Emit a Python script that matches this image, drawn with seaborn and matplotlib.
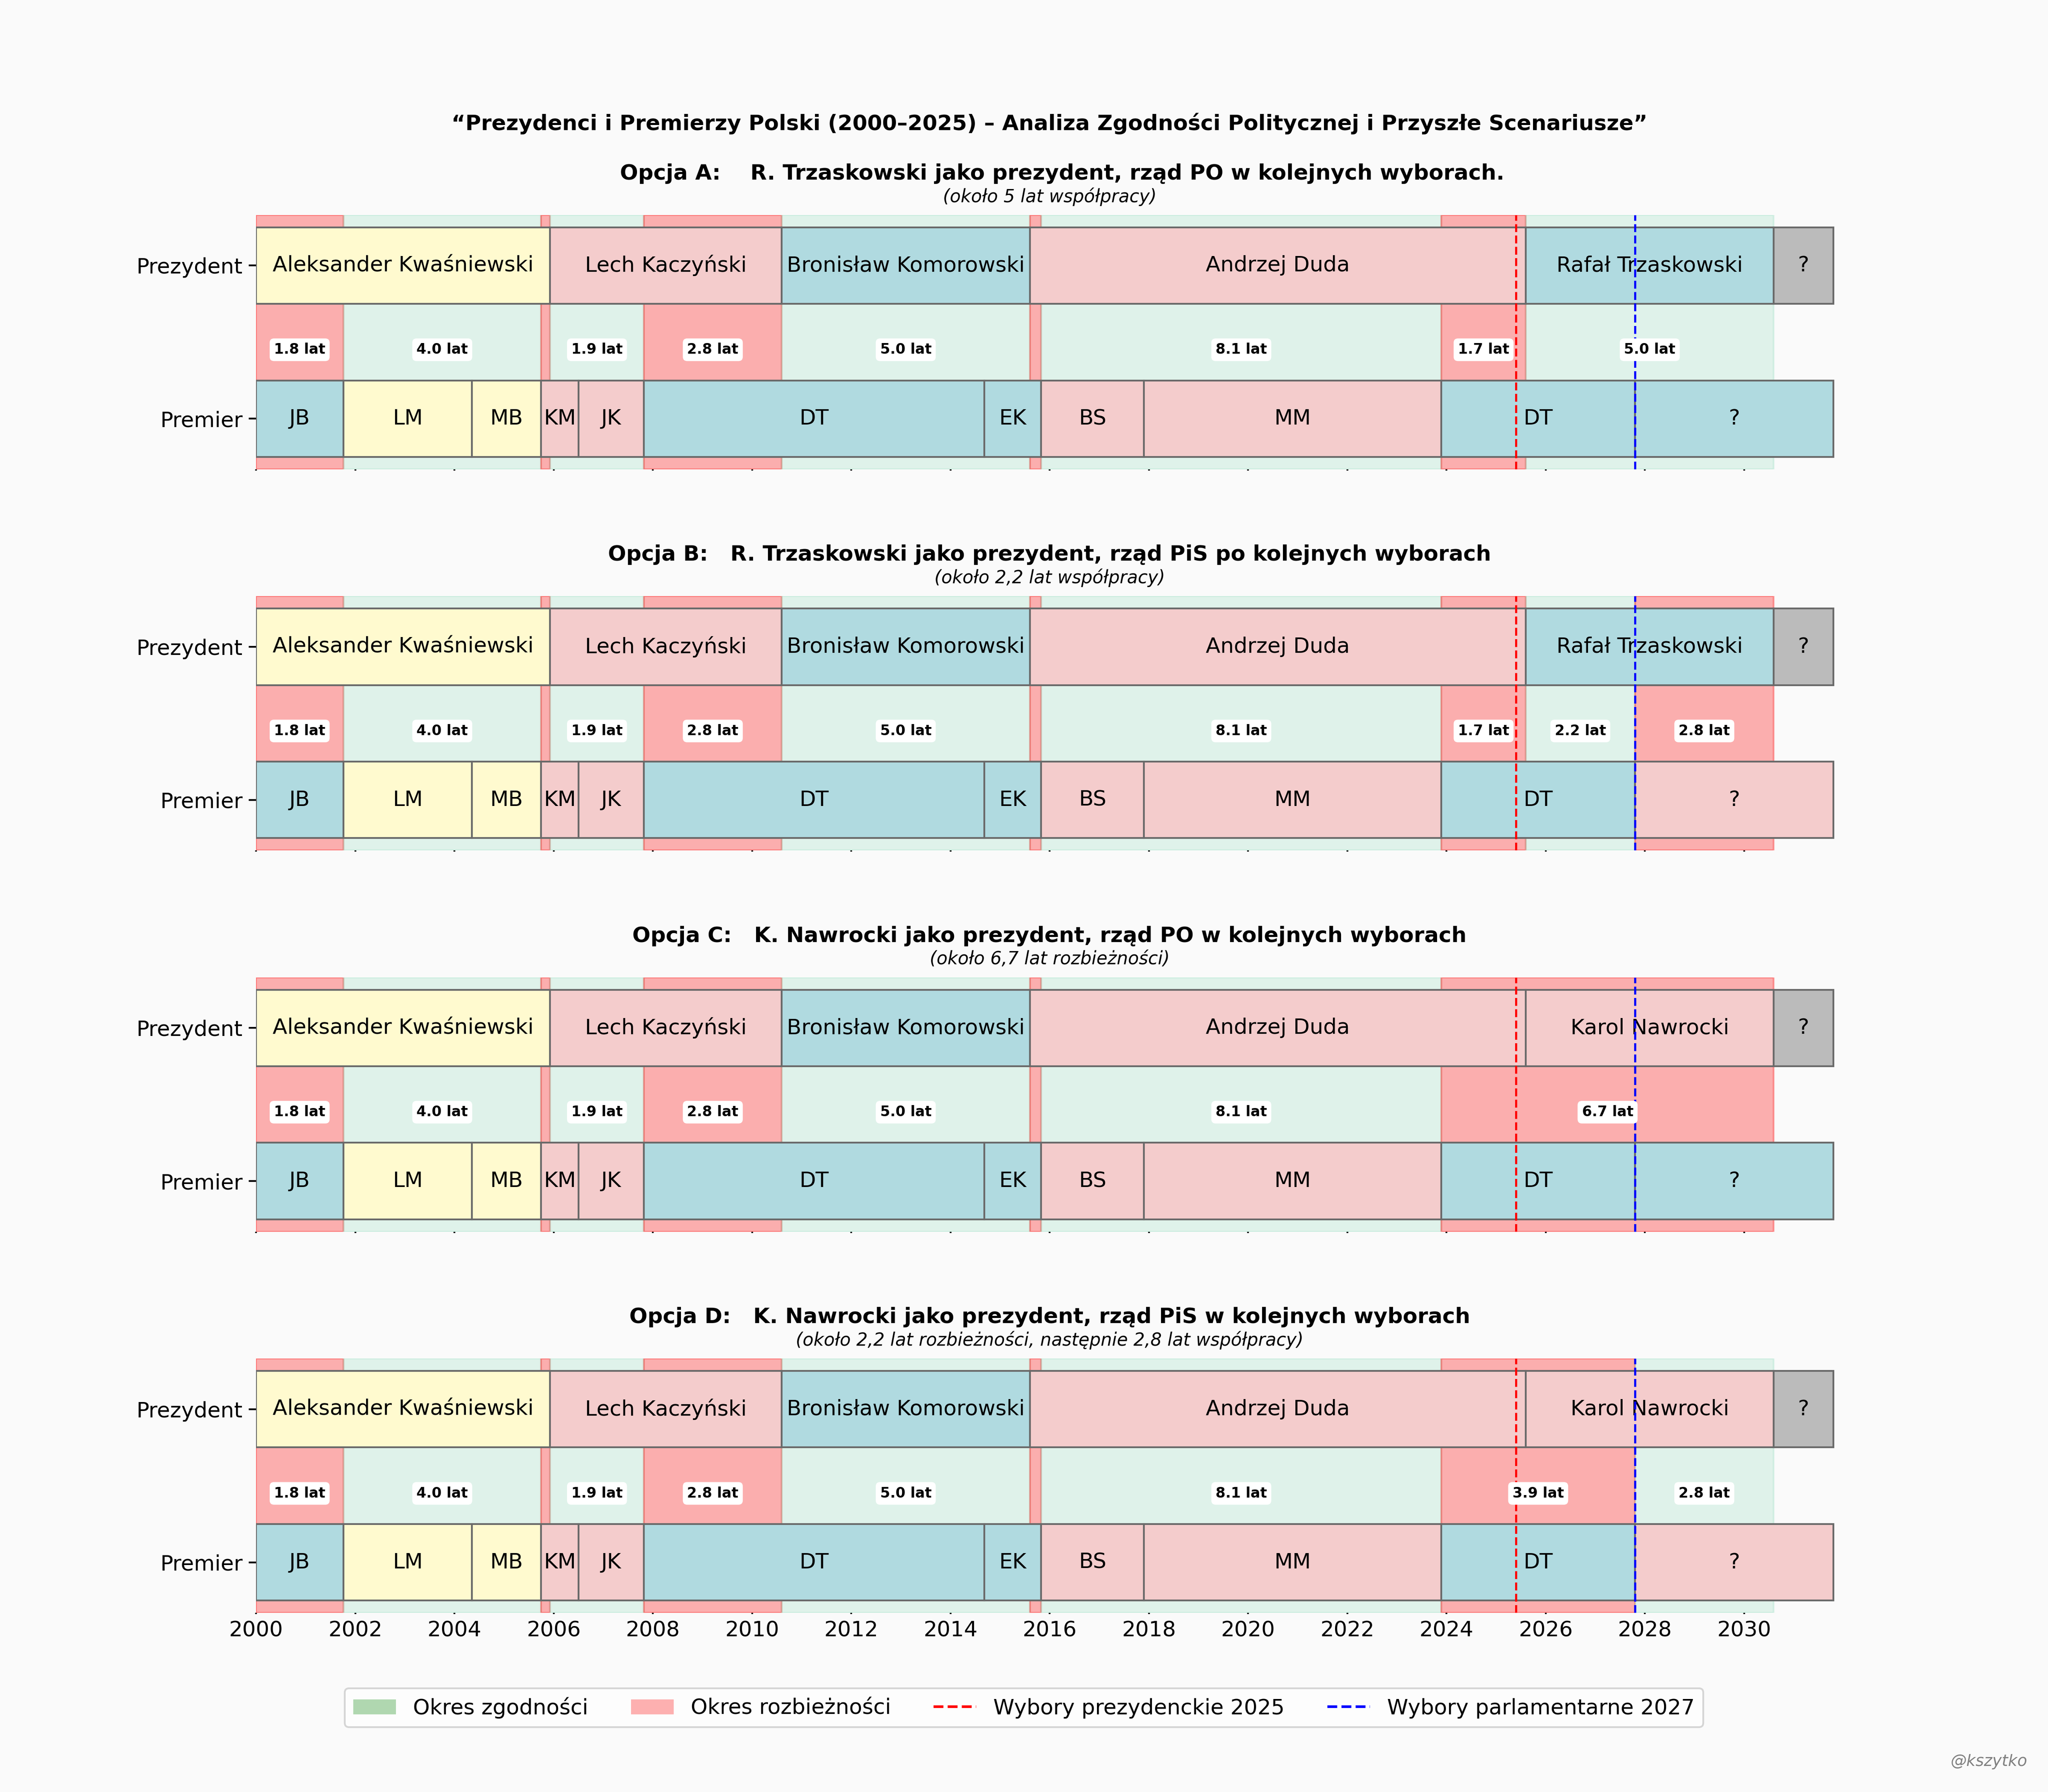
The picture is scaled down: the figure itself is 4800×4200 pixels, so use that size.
import matplotlib
matplotlib.use("Agg")
import matplotlib.pyplot as plt
from matplotlib.patches import Patch
from matplotlib.lines import Line2D
import seaborn as sns

# --- data -------------------------------------------------------------
pres_names = ["Aleksander Kwaśniewski", "Lech Kaczyński", "Bronisław Komorowski", "Andrzej Duda"]
pres_start = [2000, 2005.93, 2010.6, 2015.6]
pres_end = [2005.93, 2010.6, 2015.6, 2025.6]
pres_party = ["SLD", "PiS", "PO", "PiS"]

pm_names = ["JB", "LM", "MB", "KM", "JK", "DT", "EK", "BS", "MM", "DT"]
pm_start = [2000, 2001.76, 2004.35, 2005.75, 2006.5, 2007.82, 2014.68, 2015.83, 2017.9, 2023.9]
pm_end = [2001.76, 2004.35, 2005.75, 2006.5, 2007.82, 2014.68, 2015.83, 2017.9, 2023.9, 2027.8]
pm_party = ["PO", "SLD", "SLD", "PiS", "PiS", "PO", "PO", "PiS", "PiS", "PO"]

# scenario: next president (2025.6-2030.6) and next government (2027.8-)
opt_titles = [
    "Opcja A:    R. Trzaskowski jako prezydent, rząd PO w kolejnych wyborach.",
    "Opcja B:   R. Trzaskowski jako prezydent, rząd PiS po kolejnych wyborach",
    "Opcja C:   K. Nawrocki jako prezydent, rząd PO w kolejnych wyborach",
    "Opcja D:   K. Nawrocki jako prezydent, rząd PiS w kolejnych wyborach",
]
opt_subtitles = [
    "(około 5 lat współpracy)",
    "(około 2,2 lat współpracy)",
    "(około 6,7 lat rozbieżności)",
    "(około 2,2 lat rozbieżności, następnie 2,8 lat współpracy)",
]
opt_pres = ["Rafał Trzaskowski", "Rafał Trzaskowski", "Karol Nawrocki", "Karol Nawrocki"]
opt_pres_party = ["PO", "PO", "PiS", "PiS"]
opt_pm_party = ["PO", "PiS", "PO", "PiS"]

new_pres_start, new_pres_end = 2025.6, 2030.6
unknown_end = 2031.8
election_pres = 2025.4
election_parl = 2027.8

party_colors = {"PO": "#b0dae0", "SLD": "#fffacf", "PiS": "#f4cccc", "?": "#bbbbbb"}

sns.set_theme(style="ticks")
plt.rcParams["font.family"] = ["DejaVu Sans"]
plt.rcParams["figure.facecolor"] = "#fafafa"
plt.rcParams["axes.facecolor"] = "#fafafa"
plt.rcParams["text.color"] = "black"
plt.rcParams["xtick.color"] = "black"
plt.rcParams["ytick.color"] = "black"
plt.rcParams["axes.labelcolor"] = "black"

fig, axes = plt.subplots(4, 1, figsize=(16, 14), sharex=True)
plt.subplots_adjust(left=0.125, right=0.9, top=0.88, bottom=0.1, hspace=0.5)


def party_at(t, starts, ends, parties):
    for s, e, p in zip(starts, ends, parties):
        if s <= t < e:
            return p
    return None


for i, ax in enumerate(axes):
    p_names = pres_names + [opt_pres[i], "?"]
    p_start = pres_start + [new_pres_start, new_pres_end]
    p_end = pres_end + [new_pres_end, unknown_end]
    p_party = pres_party + [opt_pres_party[i], "?"]

    m_names = pm_names + ["?"]
    m_start = pm_start + [election_parl]
    m_end = pm_end + [unknown_end]
    m_party = pm_party + [opt_pm_party[i]]

    # agreement / disagreement periods
    cuts = sorted(set([c for c in p_start + p_end + m_start + m_end if c <= new_pres_end]))
    periods = []
    for a, b in zip(cuts[:-1], cuts[1:]):
        same = party_at(a, p_start, p_end, p_party) == party_at(a, m_start, m_end, m_party)
        if periods and periods[-1][2] == same:
            periods[-1][1] = b
        else:
            periods.append([a, b, same])

    for a, b, same in periods:
        if same:
            ax.axvspan(a, b, color="#7fd8b4", alpha=0.22, zorder=0)
        else:
            ax.axvspan(a, b, color="red", alpha=0.3, zorder=0)
        if b - a >= 0.5:
            ax.text((a + b) / 2, 0.45, f"{b - a:.1f} lat", ha="center", va="center",
                    fontsize=8, fontweight="bold", zorder=5,
                    bbox=dict(boxstyle="round,pad=0.3", facecolor="white", edgecolor="none"))

    ax.barh([1] * len(p_names), [e - s for s, e in zip(p_start, p_end)], left=p_start,
            height=0.5, color=[party_colors[p] for p in p_party],
            edgecolor="dimgray", linewidth=1, zorder=2)
    for n, s, e in zip(p_names, p_start, p_end):
        ax.text((s + e) / 2, 1, n, ha="center", va="center", fontsize=12, zorder=3)

    ax.barh([0] * len(m_names), [e - s for s, e in zip(m_start, m_end)], left=m_start,
            height=0.5, color=[party_colors[p] for p in m_party],
            edgecolor="dimgray", linewidth=1, zorder=2)
    for n, s, e in zip(m_names, m_start, m_end):
        ax.text((s + e) / 2, 0, n, ha="center", va="center", fontsize=12, zorder=3)

    ax.axvline(election_pres, color="red", linestyle="--", linewidth=1.2, zorder=4)
    ax.axvline(election_parl, color="blue", linestyle="--", linewidth=1.2, zorder=4)

    ax.set_ylim(-0.33, 1.33)
    ax.set_xlim(2000, 2032)
    ax.set_yticks([0, 1])
    ax.set_yticklabels(["Premier", "Prezydent"], fontsize=12)
    ax.set_xticks(range(2000, 2031, 2))
    ax.tick_params(axis="x", labelsize=12, length=0.8, width=1)
    ax.tick_params(axis="y", length=4, width=1)
    sns.despine(ax=ax, left=True, bottom=True)

    ax.set_title(opt_titles[i], fontsize=12, fontweight="bold", pad=20,
                 x=0.508 if i == 0 else 0.5)
    ax.text(0.5, 1.072, opt_subtitles[i], transform=ax.transAxes, ha="center",
            va="center", fontsize=10, style="italic")

fig.text(0.5125, 0.931,
         "“Prezydenci i Premierzy Polski (2000–2025) – Analiza Zgodności Politycznej i Przyszłe Scenariusze”",
         ha="center", va="center", fontsize=12, fontweight="bold")

handles = [
    Patch(facecolor="green", alpha=0.3, edgecolor="none", label="Okres zgodności"),
    Patch(facecolor="red", alpha=0.3, edgecolor="none", label="Okres rozbieżności"),
    Line2D([0], [0], color="red", linestyle="--", label="Wybory prezydenckie 2025"),
    Line2D([0], [0], color="blue", linestyle="--", label="Wybory parlamentarne 2027"),
]
fig.legend(handles=handles, loc="center", bbox_to_anchor=(0.5, 0.047), ncol=4,
           fontsize=12, frameon=True, facecolor="white", edgecolor="0.8")

fig.text(0.99, 0.017, "@kszytko", ha="right", va="center", fontsize=9,
         style="italic", color="gray")

plt.savefig("out.png", dpi=300)
